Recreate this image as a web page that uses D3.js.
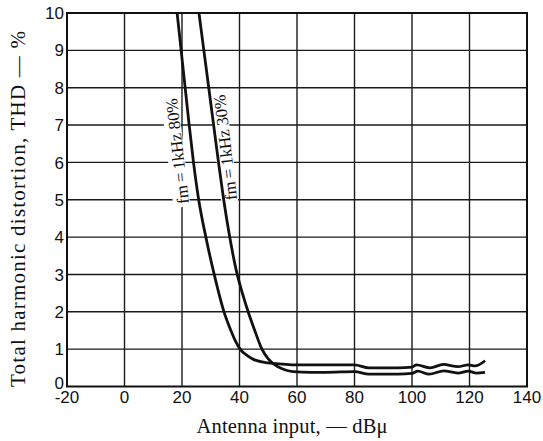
<!DOCTYPE html>
<html><head><meta charset="utf-8">
<script src="https://cdn.jsdelivr.net/npm/d3@7"></script>
<style>body{margin:0;background:#fff}</style>
</head><body>
<svg id="c" width="543" height="441"></svg>
<script>
const xTicks = [-20, 0, 20, 40, 60, 80, 100, 120, 140];
const yTicks = [0, 1, 2, 3, 4, 5, 6, 7, 8, 9, 10];

const x80 = [18.3, 19.7, 21.1, 22.5, 24.0, 25.8, 28.3, 31.2, 34.6, 37.0, 38.7, 40.2, 42.5, 45, 50, 55, 60, 70, 80, 85, 90, 95, 100, 101.6, 106.3, 110.9, 116, 119.6, 121.9, 125.4];
const y80 = [10, 9, 8, 7, 6, 5, 4, 3, 2, 1.5, 1.2, 1, 0.84, 0.72, 0.63, 0.6, 0.58, 0.58, 0.58, 0.5, 0.5, 0.5, 0.52, 0.58, 0.5, 0.59, 0.53, 0.58, 0.55, 0.69];

const x30 = [25.9, 27.6, 29.3, 31.0, 32.7, 34.5, 36.6, 39.2, 41.0, 43.0, 45.3, 47.8, 50, 52.3, 55, 58.6, 65, 70, 80, 85, 90, 95, 100, 102, 106, 111, 116, 119.6, 122.4, 125.4];
const y30 = [10, 9, 8, 7, 6, 5, 4, 3, 2.5, 2, 1.5, 1, 0.74, 0.58, 0.47, 0.4, 0.38, 0.38, 0.4, 0.33, 0.33, 0.33, 0.35, 0.41, 0.33, 0.42, 0.36, 0.41, 0.36, 0.38];

const labels = [
  {text: "fm\u2009=\u20091kHz 80%", xv: 18.6, yv: 6.3},
  {text: "fm\u2009=\u20091kHz 30%", xv: 35.3, yv: 6.4}
];

const svg = d3.select("#c");
const x = d3.scaleLinear().domain([-20, 140]).range([67, 527]);
const y = d3.scaleLinear().domain([0, 10]).range([386.5, 13]);

// grid
svg.append("g").selectAll("line").data(xTicks.slice(1, -1)).join("line")
  .attr("x1", d => x(d)).attr("x2", d => x(d)).attr("y1", y(0)).attr("y2", y(10))
  .attr("stroke", "#1a1a1a").attr("stroke-width", 1.4);
svg.append("g").selectAll("line").data(yTicks.slice(1, -1)).join("line")
  .attr("x1", x(-20)).attr("x2", x(140)).attr("y1", d => y(d)).attr("y2", d => y(d))
  .attr("stroke", "#1a1a1a").attr("stroke-width", 1.4);

// label backgrounds and labels
labels.forEach(l => {
  const g = svg.append("g").attr("transform", `translate(${x(l.xv)},${y(l.yv)}) rotate(-96.6)`);
  g.append("rect").attr("x", -56).attr("y", -11).attr("width", 112).attr("height", 17).attr("fill", "#fff");
  g.append("text").attr("text-anchor", "middle").attr("y", 5)
    .attr("font-family", "Liberation Serif, Times New Roman, serif").attr("font-size", 17)
    .attr("textLength", 106).attr("lengthAdjust", "spacing")
    .attr("fill", "#111").text(l.text);
});

// frame
svg.append("rect").attr("x", x(-20)).attr("y", y(10)).attr("width", x(140) - x(-20)).attr("height", y(0) - y(10))
  .attr("fill", "none").attr("stroke", "#111").attr("stroke-width", 2);

// curves
const line = d3.line().x(d => x(d[0])).y(d => y(d[1])).curve(d3.curveMonotoneX);
svg.append("path").attr("d", line(d3.zip(x80, y80))).attr("fill", "none").attr("stroke", "#111").attr("stroke-width", 2.8);
svg.append("path").attr("d", line(d3.zip(x30, y30))).attr("fill", "none").attr("stroke", "#111").attr("stroke-width", 2.8);

// tick labels
svg.append("g").selectAll("text").data(yTicks).join("text")
  .attr("x", 64).attr("y", d => d === 0 ? y(d) - 4 : y(d)).attr("dy", "0.36em").attr("text-anchor", "end")
  .attr("font-family", "Liberation Sans, Arial, sans-serif").attr("font-size", 17).attr("fill", "#111")
  .text(d => d);
svg.append("g").selectAll("text").data(xTicks).join("text")
  .attr("x", d => x(d)).attr("y", 403).attr("text-anchor", "middle")
  .attr("font-family", "Liberation Sans, Arial, sans-serif").attr("font-size", 17).attr("fill", "#111")
  .text(d => d);

// axis titles
svg.append("text").attr("x", 292).attr("y", 433).attr("text-anchor", "middle")
  .attr("font-family", "Liberation Serif, Times New Roman, serif").attr("font-size", 20.5).attr("fill", "#111")
  .attr("textLength", 191).attr("lengthAdjust", "spacing")
  .text("Antenna input, \u2014 dB\u03bc");
svg.append("text").attr("transform", "translate(25,209) rotate(-90)").attr("text-anchor", "middle")
  .attr("font-family", "Liberation Serif, Times New Roman, serif").attr("font-size", 21).attr("fill", "#111")
  .attr("textLength", 356).attr("lengthAdjust", "spacing")
  .text("Total harmonic distortion, THD \u2014 %");
</script>
</body></html>
